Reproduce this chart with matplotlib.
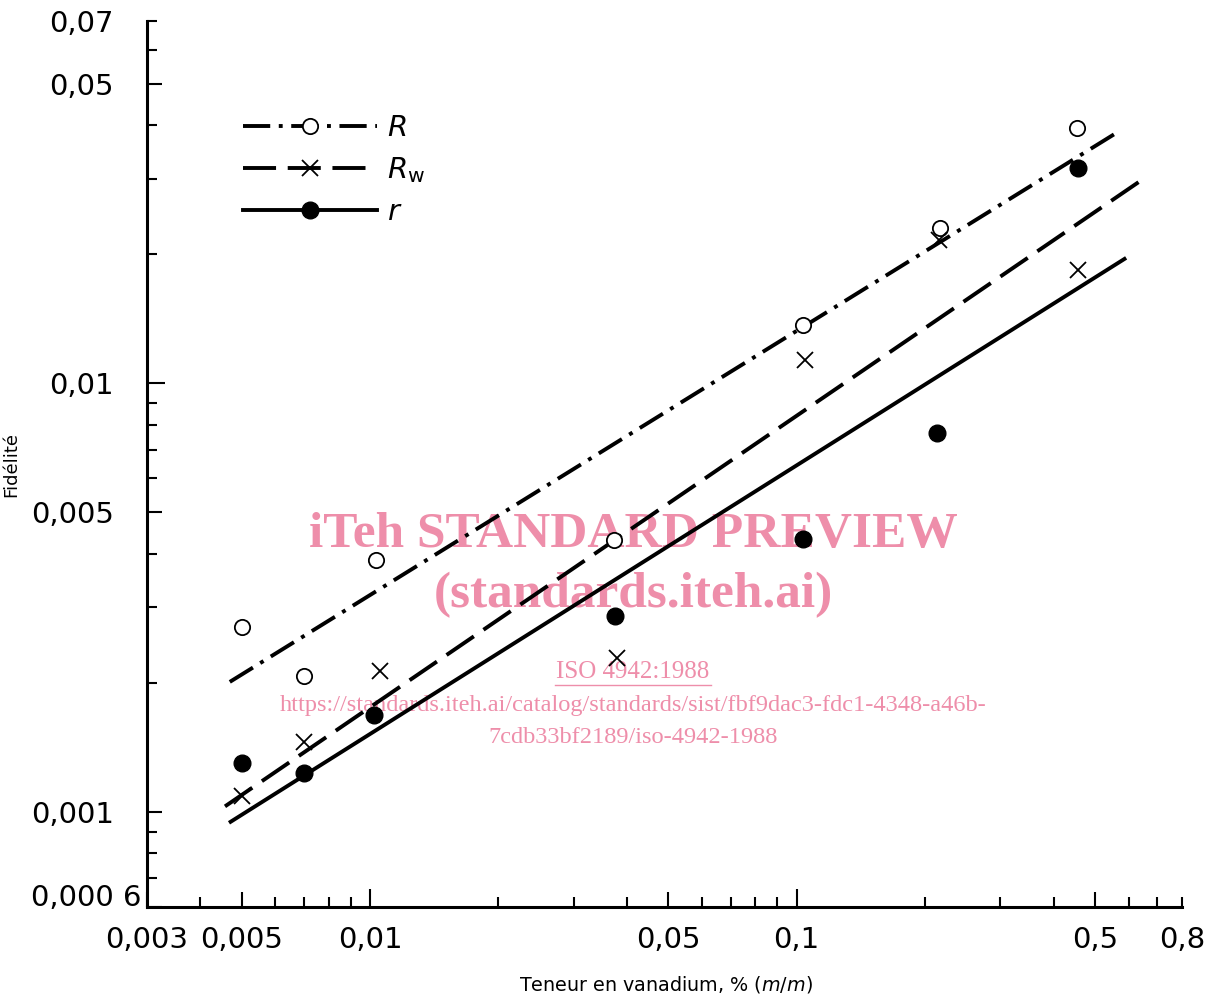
import matplotlib
matplotlib.use("Agg")
import matplotlib.pyplot as plt
from matplotlib.lines import Line2D
from matplotlib.transforms import ScaledTranslation
from matplotlib.ticker import FixedLocator, FixedFormatter, NullFormatter

plt.rcParams['font.family'] = ['DejaVu Sans']
plt.rcParams['mathtext.fontset'] = 'dejavusans'

# vanadium content, % (m/m) and precision values
x_R = [0.005, 0.007, 0.0103, 0.0374, 0.1033, 0.2166, 0.454]
y_R = [0.0027, 0.00208, 0.00386, 0.0043, 0.01366, 0.0230, 0.0394]

x_Rw = [0.005, 0.007, 0.01055, 0.038, 0.1044, 0.2154, 0.4566]
y_Rw = [0.00109, 0.001457, 0.002135, 0.00228, 0.01132, 0.0216, 0.01836]

x_r = [0.005, 0.007, 0.0102, 0.0376, 0.1036, 0.2132, 0.4566]
y_r = [0.0013, 0.001234, 0.001685, 0.00287, 0.00434, 0.00764, 0.0318]

# fitted regression lines (end points)
fit_R_x = [0.00469, 0.558]
fit_R_y = [0.00201, 0.0382]
fit_Rw_x = [0.00457, 0.635]
fit_Rw_y = [0.00103, 0.0295]
fit_r_x = [0.00467, 0.592]
fit_r_y = [0.000943, 0.0196]

xticks = [0.003, 0.005, 0.01, 0.05, 0.1, 0.5, 0.8]
xticklabels = ['0,003', '0,005', '0,01', '0,05', '0,1', '0,5', '0,8']
xminor = [0.004, 0.006, 0.007, 0.008, 0.009, 0.02, 0.03, 0.04,
          0.06, 0.07, 0.08, 0.09, 0.2, 0.3, 0.4, 0.6, 0.7]
yticks = [0.0006, 0.001, 0.005, 0.01, 0.05, 0.07]
yticklabels = ['0,000 6', '0,001', '0,005', '0,01', '0,05', '0,07']
yminor = [0.0007, 0.0008, 0.0009, 0.002, 0.003, 0.004,
          0.006, 0.007, 0.008, 0.009, 0.02, 0.03, 0.04, 0.06]

fig = plt.figure(figsize=(12.09, 9.99), dpi=100)
ax = fig.add_axes([0.1216, 0.0921, 0.856, 0.887])
ax.patch.set_alpha(0)
ax.set_xscale('log')
ax.set_yscale('log')
ax.set_xlim(0.003, 0.8)
ax.set_ylim(0.0006, 0.07)

lw = 2.8
ax.plot(fit_R_x, fit_R_y, color='black', lw=lw, dashes=(7, 2.2, 1.0, 2.2))
ax.plot(fit_Rw_x, fit_Rw_y, color='black', lw=lw, dashes=(8.5, 3.0))
ax.plot(fit_r_x, fit_r_y, color='black', lw=lw, solid_capstyle='butt')

ax.plot(x_R, y_R, 'o', ms=11, mfc='white', mec='black', mew=1.3)
ax.plot(x_Rw, y_Rw, 'x', ms=11, color='black', mew=1.3)
ax.plot(x_r, y_r, 'o', ms=12, color='black')

# axes styling
for s in ['top', 'right']:
    ax.spines[s].set_visible(False)
for s in ['left', 'bottom']:
    ax.spines[s].set_linewidth(2.2)

ax.xaxis.set_major_locator(FixedLocator(xticks))
ax.xaxis.set_major_formatter(FixedFormatter(xticklabels))
ax.xaxis.set_minor_locator(FixedLocator(xminor))
ax.xaxis.set_minor_formatter(NullFormatter())
ax.yaxis.set_major_locator(FixedLocator(yticks))
ax.yaxis.set_major_formatter(FixedFormatter(yticklabels))
ax.yaxis.set_minor_locator(FixedLocator(yminor))
ax.yaxis.set_minor_formatter(NullFormatter())

ax.tick_params(which='both', direction='in', width=1.5, labelsize=21)
ax.tick_params(which='major', length=11)
ax.tick_params(which='minor', length=7)
ax.tick_params(axis='x', which='major', pad=14)
ax.tick_params(axis='y', which='major', pad=24)

# longer ticks at 0,01 and 0,1, shorter at the axis ends
xt = ax.xaxis.get_major_ticks()
xt[2].tick1line.set_markersize(13)
xt[4].tick1line.set_markersize(13)
xt[6].tick1line.set_markersize(7)
yt = ax.yaxis.get_major_ticks()
yt[3].tick1line.set_markersize(13)
yt[5].tick1line.set_markersize(7)
# lowest y label sits close to the axis, raised above the x labels
lab = yt[0].label1
lab.set_transform(lab.get_transform() + ScaledTranslation(0.28, 0.12, fig.dpi_scale_trans))

ax.set_xlabel(r'Teneur en vanadium, % ($m/m$)', fontsize=13.8)
ax.xaxis.set_label_coords(0.5014, -0.076)
ax.set_ylabel('Fidélité', fontsize=13)
ax.yaxis.set_label_coords(-0.1227, 0.499)

handles = [
    Line2D([], [], color='black', lw=lw, dashes=(7, 2.2, 1.0, 2.2),
           marker='o', ms=11, mfc='white', mec='black', mew=1.3),
    Line2D([], [], color='black', lw=lw, dashes=(8.5, 3.0),
           marker='x', ms=11, mec='black', mew=1.3),
    Line2D([], [], color='black', lw=lw, marker='o', ms=12),
]
ax.legend(handles, [r'$R$', r'$R_{\rm w}$', r'$r$'], loc='upper left',
          bbox_to_anchor=(0.0928, 0.895), frameon=False, fontsize=21,
          handlelength=4.6, handletextpad=0.35, labelspacing=0.45,
          numpoints=1, borderpad=0, borderaxespad=0)

# watermark (behind the plot lines)
pink = '#EE8EAA'
wm = dict(color=pink, family='Liberation Serif', ha='center', va='center', zorder=-1)
fig.text(0.5236, 0.4645, 'iTeh STANDARD PREVIEW', fontsize=37, fontweight='bold', **wm)
fig.text(0.5236, 0.4045, '(standards.iteh.ai)', fontsize=37, fontweight='bold', **wm)
fig.text(0.5236, 0.3275, 'ISO 4942:1988', fontsize=18, **wm)
fig.add_artist(Line2D([555 / 1209, 711 / 1209], [1 - 685 / 999] * 2,
                      color=pink, lw=1, transform=fig.transFigure, zorder=-1))
fig.text(0.5236, 0.2935,
         'https://standards.iteh.ai/catalog/standards/sist/fbf9dac3-fdc1-4348-a46b-',
         fontsize=17.6, **wm)
fig.text(0.5236, 0.2615, '7cdb33bf2189/iso-4942-1988', fontsize=17.6, **wm)

fig.savefig('out.png', dpi=100)
